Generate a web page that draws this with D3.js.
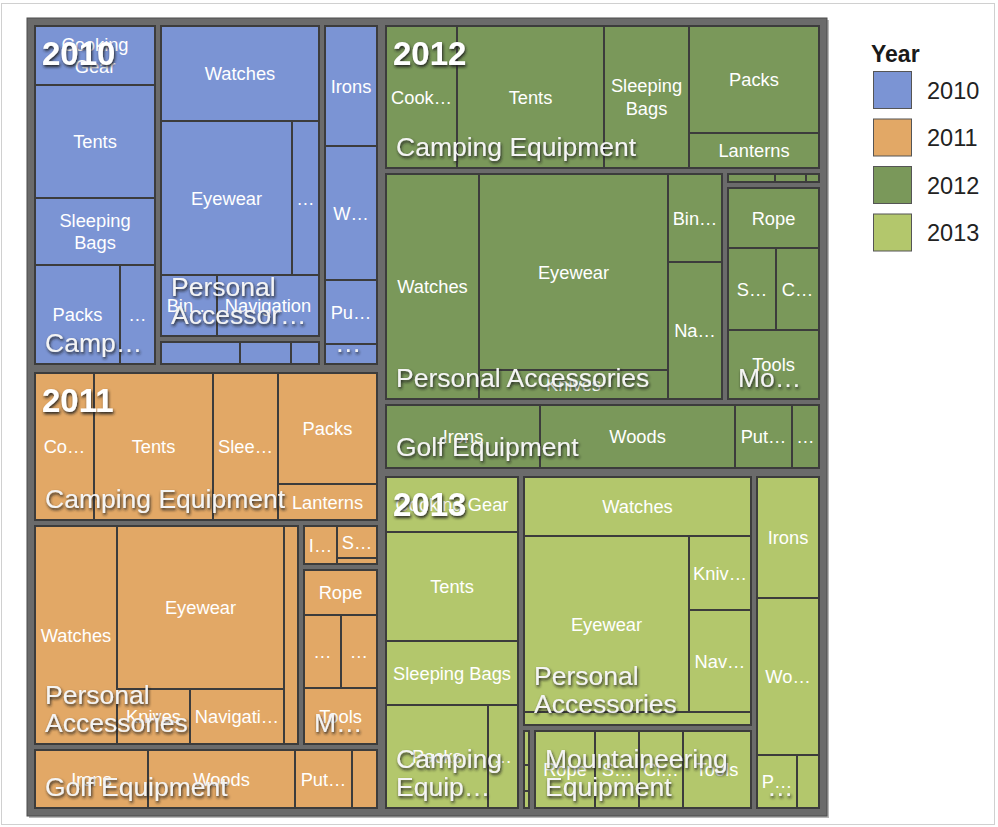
<!DOCTYPE html>
<html>
<head>
<meta charset="utf-8">
<script src="https://cdn.jsdelivr.net/npm/d3@7"></script>
<style>
  html, body { margin: 0; padding: 0; background: #fff; }
  svg { display: block; font-family: 'Liberation Sans', Arial, sans-serif; }
</style>
</head>
<body>
<svg id="chart" width="998" height="827"></svg>
<script>
// ---- Data: revenue (USD millions) by year, product line and product ----
const years = ["2010", "2011", "2012", "2013"];
const yearColors = ["#7b94d4", "#e2a866", "#7a985a", "#b3c76c"];
const productLines = ["Camping Equipment", "Personal Accessories", "Outdoor Protection",
                      "Mountaineering Equipment", "Golf Equipment"];

const campingProducts  = ["Cooking Gear", "Tents", "Sleeping Bags", "Packs", "Lanterns"];
const personalProducts = ["Watches", "Eyewear", "Knives", "Binoculars", "Navigation"];
const outdoorProducts  = ["Insect Repellents", "Sunscreen", "First Aid"];
const mountainProducts = ["Rope", "Safety", "Climbing Accessories", "Tools"];
const golfProducts     = ["Irons", "Woods", "Putters", "Golf Accessories"];

// one row per year, columns follow the product lists above
const campingRevenue = [
  [57.9, 110.9, 64.9, 69.3, 28.5],
  [69.5, 140.4, 76.7, 88.8, 28.3],
  [81.2, 167.3, 97.6, 111.1, 36.7],
  [58.3, 116.6, 68.2, 85.2, 25.3]
];
const personalRevenue = [
  [120.7, 161.8, 34.1, 27.8, 50.9],
  [143.0, 217.2, 32.6, 25.0, 41.5],
  [166.6, 293.7, 43.7, 37.6, 59.3],
  [106.4, 232.3, 37.0, 24.3, 50.8]
];
const outdoorRevenue = [
  [17.4, 11.4, 6.1],
  [12.1, 12.4, 2.4],
  [5.4, 3.5, 1.5],
  [3.0, 2.4, 1.5]
];
const mountainRevenue = [
  [0, 0, 0, 0],
  [27.9, 22.9, 22.4, 35.0],
  [45.3, 32.9, 29.2, 52.3],
  [39.2, 28.1, 28.7, 44.5]
];
const golfRevenue = [
  [54.3, 60.2, 29.0, 9.2],
  [55.8, 72.9, 28.0, 12.6],
  [81.9, 103.8, 30.0, 14.5],
  [63.4, 82.0, 17.7, 10.0]
];

// ---- Strip arrangement for the tiling: "row" = side by side, "col" = stacked ----
const yearArrangement = ["row", ["col", "2010", "2011"], ["col", "2012", "2013"]];
const lineArrangement = [
  ["row", "Camping Equipment", ["col", "Personal Accessories", "Outdoor Protection"], "Golf Equipment"],
  ["col", "Camping Equipment", ["row", "Personal Accessories", ["col", "Outdoor Protection", "Mountaineering Equipment"]], "Golf Equipment"],
  ["col", "Camping Equipment", ["row", "Personal Accessories", ["col", "Outdoor Protection", "Mountaineering Equipment"]], "Golf Equipment"],
  ["row", "Camping Equipment", ["col", "Personal Accessories", ["row", "Outdoor Protection", "Mountaineering Equipment"]], "Golf Equipment"]
];
const campingArrangement = [
  ["col", 0, 1, 2, ["row", 3, 4]],
  ["row", 0, 1, 2, ["col", 3, 4]],
  ["row", 0, 1, 2, ["col", 3, 4]],
  ["col", 0, 1, 2, ["row", 3, 4]]
];
const personalArrangement = [
  ["col", 0, ["row", 1, 2], ["row", 3, 4]],
  ["row", 0, ["col", 1, ["row", 2, 4]], 3],
  ["row", 0, ["col", 1, 2], ["col", 3, 4]],
  ["col", 0, ["row", 1, ["col", 2, 4]], 3]
];
const outdoorArrangement = [
  ["row", 0, 1, 2],
  ["row", 0, ["col", 1, 2]],
  ["row", 0, 1, 2],
  ["col", 0, 1, 2]
];
const mountainArrangement = [
  ["row", 0, 1, 2, 3],
  ["col", 0, ["row", 1, 2], 3],
  ["col", 0, ["row", 1, 2], 3],
  ["row", 0, 1, 2, 3]
];
const golfArrangement = [
  ["col", 0, 1, 2, 3],
  ["row", 0, 1, 2, 3],
  ["row", 0, 1, 2, 3],
  ["col", 0, 1, ["row", 2, 3]]
];

const lineTable = [
  { products: campingProducts,  revenue: campingRevenue,  arrangement: campingArrangement },
  { products: personalProducts, revenue: personalRevenue, arrangement: personalArrangement },
  { products: outdoorProducts,  revenue: outdoorRevenue,  arrangement: outdoorArrangement },
  { products: mountainProducts, revenue: mountainRevenue, arrangement: mountainArrangement },
  { products: golfProducts,     revenue: golfRevenue,     arrangement: golfArrangement }
];

// ---- Hierarchy ----
const rootData = {
  key: "root",
  children: years.map((yr, yi) => ({
    key: yr, yi,
    children: productLines.map((ln, li) => ({
      key: ln, yi, li,
      children: lineTable[li].products.map((p, pi) => ({
        key: pi, name: p, value: lineTable[li].revenue[yi][pi]
      }))
    })).filter(d => d3.sum(d.children, c => c.value) > 0)
  }))
};

const root = d3.hierarchy(rootData).sum(d => d.value || 0);

// ---- Tiling: split each node into strips with d3's dice / slice ----
function arrangementOf(node) {
  if (node.depth === 0) return yearArrangement;
  if (node.depth === 1) return lineArrangement[node.data.yi];
  return lineTable[node.data.li].arrangement[node.data.yi];
}
function planValue(plan, byKey) {
  return d3.sum(plan.slice(1), it => Array.isArray(it)
    ? planValue(it, byKey)
    : (byKey.has(it) ? byKey.get(it).value : 0));
}
function place(plan, byKey, x0, y0, x1, y1) {
  const items = plan.slice(1).map(it => Array.isArray(it)
      ? { plan: it, value: planValue(it, byKey) }
      : { node: byKey.get(it), value: byKey.has(it) ? byKey.get(it).value : 0 })
    .filter(it => it.value > 0);
  const strip = { value: d3.sum(items, it => it.value), children: items };
  (plan[0] === "row" ? d3.treemapDice : d3.treemapSlice)(strip, x0, y0, x1, y1);
  items.forEach(it => {
    if (it.plan) place(it.plan, byKey, it.x0, it.y0, it.x1, it.y1);
    else Object.assign(it.node, { x0: it.x0, y0: it.y0, x1: it.x1, y1: it.y1 });
  });
}
function planTile(node, x0, y0, x1, y1) {
  const byKey = new Map(node.children.map(c => [c.data.key, c]));
  place(arrangementOf(node), byKey, x0, y0, x1, y1);
}

const W = 800, H = 798;
d3.treemap()
  .size([W, H])
  .tile(planTile)
  .round(true)
  .paddingOuter(n => n.depth === 0 ? 8 : 0)
  .paddingInner(n => n.depth === 0 ? 9 : n.depth === 1 ? 6 : 0)(root);

const color = d3.scaleOrdinal(years, yearColors);

// ---- Text fitting ----
const FONT = "'Liberation Sans', Arial, sans-serif";
const LEAF_SIZE = 18.3, GROUP_SIZE = 26.5;
const ELLIPSIS = "…";
const ctx = document.createElement("canvas").getContext("2d");
const measurer = font => s => { ctx.font = font; return ctx.measureText(s).width; };
const leafMeasure = measurer(LEAF_SIZE + "px " + FONT);
const groupMeasure = measurer(GROUP_SIZE + "px " + FONT);

function truncate(str, maxW, measure) {
  for (let n = str.length - 1; n >= 0; n--) {
    const s = str.slice(0, n).trimEnd() + ELLIPSIS;
    if (measure(s) <= maxW) return s;
  }
  return null;
}
function wrapLabel(text, maxW, maxLines, measure) {
  const words = text.split(/\s+/);
  const lines = [];
  let cur = "";
  for (const w of words) {
    const cand = cur ? cur + " " + w : w;
    if (measure(cand) <= maxW) { cur = cand; continue; }
    if (cur && lines.length + 1 < maxLines) {
      lines.push(cur);
      cur = w;
      if (measure(cur) <= maxW) continue;
      const t = truncate(cur, maxW, measure);
      if (t) lines.push(t);
      return lines.length ? lines : null;
    }
    const t = truncate(cand, maxW, measure);
    if (t) lines.push(t);
    return lines.length ? lines : null;
  }
  lines.push(cur);
  return lines;
}

// ---- Drawing ----
const svg = d3.select("#chart");

const defs = svg.append("defs");
const f = defs.append("filter").attr("id", "textShadow")
  .attr("x", "-10%").attr("y", "-30%").attr("width", "130%").attr("height", "170%");
f.append("feGaussianBlur").attr("in", "SourceAlpha").attr("stdDeviation", 1.7);
f.append("feOffset").attr("dx", 1).attr("dy", 2).attr("result", "blur");
f.append("feFlood").attr("flood-color", "#1e1e1e").attr("flood-opacity", 0.95);
f.append("feComposite").attr("in2", "blur").attr("operator", "in");
const fm = f.append("feMerge");
fm.append("feMergeNode");
fm.append("feMergeNode").attr("in", "SourceGraphic");

// page frame
svg.append("rect")
  .attr("x", 1.5).attr("y", 3.5).attr("width", 993).attr("height", 821)
  .attr("fill", "none").attr("stroke", "#d0d0d0");

const g = svg.append("g").attr("transform", "translate(27,18)");

// panel behind the tiles
g.append("rect").attr("x", 2).attr("y", 2).attr("width", W).attr("height", H).attr("fill", "#b8b8b8");
g.append("rect").attr("width", W).attr("height", H)
  .attr("fill", "#6b6b6b").attr("stroke", "#4d4d4d").attr("stroke-width", 1);

const leaves = root.leaves().filter(d => d.value > 0);

g.append("g").selectAll("rect").data(leaves).join("rect")
  .attr("x", d => d.x0).attr("y", d => d.y0)
  .attr("width", d => d.x1 - d.x0).attr("height", d => d.y1 - d.y0)
  .attr("fill", d => color(d.parent.parent.data.key))
  .attr("stroke", "#3c3c3c").attr("stroke-width", 2);

// product labels
const leafLabels = g.append("g").attr("fill", "#ffffff")
  .attr("font-size", LEAF_SIZE).attr("text-anchor", "middle");
leaves.forEach(d => {
  const w = d.x1 - d.x0, h = d.y1 - d.y0;
  if (h < 23) return;
  const maxLines = Math.max(1, Math.floor((h - 4) / 22));
  const lines = wrapLabel(d.data.name, w - 8, maxLines, leafMeasure);
  if (!lines) return;
  const cx = (d.x0 + d.x1) / 2, cy = (d.y0 + d.y1) / 2;
  const t = leafLabels.append("text");
  lines.forEach((ln, i) => {
    t.append("tspan").attr("x", cx)
      .attr("y", cy + (i - (lines.length - 1) / 2) * 22.5 + 6.5)
      .text(ln);
  });
});

// product line labels
const groups = root.descendants().filter(d => d.depth === 2);
const groupLabels = g.append("g").attr("fill", "#f4f4f4")
  .attr("font-size", GROUP_SIZE).attr("filter", "url(#textShadow)");
groups.forEach(d => {
  const w = d.x1 - d.x0, h = d.y1 - d.y0;
  if (h < 45) return;
  const maxLines = Math.max(1, Math.min(2, Math.floor((h - 8) / 28)));
  const lines = wrapLabel(d.data.key, w - 20, maxLines, groupMeasure);
  if (!lines) return;
  const t = groupLabels.append("text");
  lines.forEach((ln, i) => {
    t.append("tspan").attr("x", d.x0 + 10)
      .attr("y", d.y1 - 12 - (lines.length - 1 - i) * 28)
      .text(ln);
  });
});

// year labels
g.append("g").attr("fill", "#ffffff").attr("font-size", 33).attr("font-weight", "bold")
  .attr("filter", "url(#textShadow)")
  .selectAll("text").data(root.children).join("text")
  .attr("x", d => d.x0 + 7).attr("y", d => d.y0 + 39)
  .text(d => d.data.key);

// ---- Legend ----
const legendY = d3.scalePoint().domain(years).range([71, 213.5]);
const legend = svg.append("g");
legend.append("text").attr("x", 871).attr("y", 62)
  .attr("font-size", 23).attr("font-weight", "bold").attr("fill", "#1a1a1a").text("Year");
legend.selectAll("rect.sw").data(years).join("rect").attr("class", "sw")
  .attr("x", 873.5).attr("y", d => legendY(d) + 0.5).attr("width", 38).attr("height", 37)
  .attr("fill", d => color(d)).attr("stroke", "#555").attr("stroke-width", 1);
legend.selectAll("text.lb").data(years).join("text").attr("class", "lb")
  .attr("x", 927).attr("y", d => legendY(d) + 27.5)
  .attr("font-size", 23.5).attr("fill", "#222").text(d => d);
</script>
</body>
</html>
